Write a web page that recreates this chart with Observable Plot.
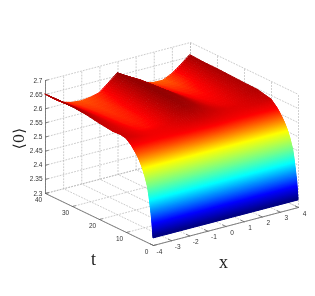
<!DOCTYPE html>
<html><head><meta charset="utf-8">
<style>html,body{margin:0;padding:0;background:#fff}svg{display:block}</style>
<script src="https://cdn.jsdelivr.net/npm/d3@7"></script>
<script src="https://cdn.jsdelivr.net/npm/@observablehq/plot@0.6"></script>
</head><body><div id="c"></div>
<script>
const xTicks=[-4,-3,-2,-1,0,1,2,3,4];
const tTicks=[0,10,20,30,40];
const zTicks=[2.3,2.35,2.4,2.45,2.5,2.55,2.6,2.65,2.7];
const zLabels=["2.3","2.35","2.4","2.45","2.5","2.55","2.6","2.65","2.7"];
const xGrid=[-4,-3.5,-3,-2.5,-2,-1.5,-1,-0.5,0,0.5,1,1.5,2,2.5,3,3.5,4];
const tGrid=[40,35,30,25,20,15,12,10,8,7,6,5,4,3,2,1.5,1,0.5,0.25,0];
const surface=[
[2.650,2.625,2.604,2.595,2.592,2.596,2.604,2.630,2.658,2.638,2.614,2.598,2.590,2.589,2.604,2.628,2.655],
[2.652,2.628,2.610,2.600,2.597,2.600,2.612,2.636,2.660,2.648,2.622,2.606,2.598,2.596,2.606,2.630,2.652],
[2.652,2.632,2.614,2.604,2.600,2.604,2.618,2.640,2.660,2.652,2.628,2.611,2.604,2.604,2.614,2.634,2.652],
[2.648,2.632,2.616,2.606,2.603,2.607,2.622,2.644,2.661,2.655,2.635,2.618,2.610,2.610,2.620,2.637,2.650],
[2.640,2.630,2.618,2.608,2.606,2.610,2.626,2.646,2.659,2.654,2.638,2.624,2.616,2.617,2.626,2.638,2.648],
[2.634,2.628,2.620,2.612,2.610,2.616,2.630,2.646,2.654,2.650,2.638,2.628,2.622,2.622,2.630,2.640,2.647],
[2.636,2.628,2.622,2.618,2.618,2.622,2.630,2.640,2.645,2.642,2.636,2.630,2.626,2.626,2.630,2.636,2.640],
[2.632,2.628,2.622,2.618,2.618,2.620,2.626,2.632,2.636,2.634,2.630,2.626,2.624,2.624,2.628,2.632,2.636],
[2.616,2.616,2.614,2.614,2.614,2.616,2.618,2.620,2.622,2.622,2.620,2.618,2.616,2.616,2.616,2.618,2.618],
[2.604,2.604,2.604,2.604,2.606,2.606,2.608,2.608,2.610,2.610,2.608,2.606,2.606,2.606,2.606,2.606,2.606],
[2.592,2.592,2.592,2.592,2.594,2.594,2.594,2.596,2.596,2.596,2.594,2.594,2.592,2.592,2.592,2.592,2.592],
[2.576,2.576,2.576,2.576,2.576,2.576,2.578,2.578,2.578,2.578,2.578,2.576,2.576,2.576,2.576,2.576,2.576],
[2.556,2.556,2.556,2.556,2.556,2.556,2.556,2.556,2.556,2.556,2.556,2.556,2.556,2.556,2.556,2.556,2.556],
[2.530,2.530,2.530,2.530,2.530,2.530,2.530,2.530,2.530,2.530,2.530,2.530,2.530,2.530,2.530,2.530,2.530],
[2.496,2.496,2.496,2.496,2.496,2.496,2.496,2.496,2.496,2.496,2.496,2.496,2.496,2.496,2.496,2.496,2.496],
[2.466,2.466,2.466,2.466,2.466,2.466,2.466,2.466,2.466,2.466,2.466,2.466,2.466,2.466,2.466,2.466,2.466],
[2.430,2.430,2.430,2.430,2.430,2.430,2.430,2.430,2.430,2.430,2.430,2.430,2.430,2.430,2.430,2.430,2.430],
[2.390,2.390,2.390,2.390,2.390,2.390,2.390,2.390,2.390,2.390,2.390,2.390,2.390,2.390,2.390,2.390,2.390],
[2.360,2.360,2.360,2.360,2.360,2.360,2.360,2.360,2.360,2.360,2.360,2.360,2.360,2.360,2.360,2.360,2.360],
[2.325,2.325,2.325,2.325,2.325,2.325,2.325,2.325,2.325,2.325,2.325,2.325,2.325,2.325,2.325,2.325,2.325]
];
const jetStops=[2.325,2.37,2.45,2.55,2.612,2.668];
const jetColors=["#00007f","#0000ff","#00ffff","#ffff00","#ff0000","#7f0000"];

// MATLAB-style orthographic view of the box (x, t, value) onto the page
const sx=(x,t)=>153+(x+4)*18.125-t*2.7;
const sy=(x,t,z)=>245-(x+4)*4.75-t*1.3-(z-2.3)*282.5;

// surface quads, back to front, split for interpolated shading
const NX=5, cells=[];
let id=0;
for(let i=0;i<tGrid.length-1;i++){
  const NT=Math.min(16,Math.max(3,Math.ceil(Math.abs(surface[i+1][8]-surface[i][8])/0.002)));
  for(let sub=0;sub<NT;sub++){
    for(let j=xGrid.length-2;j>=0;j--){
      for(let k=NX-1;k>=0;k--){
        const at=(a,b)=>{
          const u=(sub+a)/NT,v=(k+b)/NX;
          const t=tGrid[i]+(tGrid[i+1]-tGrid[i])*u;
          const x=xGrid[j]+(xGrid[j+1]-xGrid[j])*v;
          const z=(1-u)*((1-v)*surface[i][j]+v*surface[i][j+1])+u*((1-v)*surface[i+1][j]+v*surface[i+1][j+1]);
          return {x:sx(x,t),y:sy(x,t,z),z};
        };
        const p00=at(0,0),p01=at(0,1),p10=at(1,0),p11=at(1,1);
        const c=(p00.z+p01.z+p10.z+p11.z)/4;
        cells.push({id,x1:p00.x,y1:p00.y,x2:p01.x,y2:p01.y,c});
        cells.push({id,x1:p10.x,y1:p10.y,x2:p11.x,y2:p11.y,c});
        id++;
      }
    }
  }
}

const grid=[];
let g=0;
const seg=(a,b)=>{grid.push({g,x:sx(a[0],a[1]),y:sy(a[0],a[1],a[2])},{g,x:sx(b[0],b[1]),y:sy(b[0],b[1],b[2])});g++;};
for(const x of xTicks){seg([x,0,2.3],[x,40,2.3]);seg([x,40,2.3],[x,40,2.7]);}
for(const t of tTicks){seg([-4,t,2.3],[4,t,2.3]);seg([4,t,2.3],[4,t,2.7]);}
for(const z of zTicks){seg([-4,40,z],[4,40,z]);seg([4,40,z],[4,0,z]);}

const axes=[];
let h=0;
const ax=(a,b)=>{axes.push({h,x:sx(a[0],a[1]),y:sy(a[0],a[1],a[2])},{h,x:sx(b[0],b[1]),y:sy(b[0],b[1],b[2])});h++;};
ax([-4,40,2.3],[-4,40,2.7]);
ax([-4,40,2.3],[-4,0,2.3]);
ax([-4,0,2.3],[4,0,2.3]);
for(const z of zTicks)ax([-4,40,z],[-3.85,40,z]);
for(const t of tTicks)ax([-4,t,2.3],[-3.85,t,2.3]);
for(const x of xTicks)ax([x,0,2.3],[x,1.2,2.3]);

const font="Liberation Sans, Arial, sans-serif";
const serif="Liberation Serif, Times New Roman, serif";
const tickStyle={fontFamily:font,fontSize:6.5,fill:"#333"};

const chart=Plot.plot({
  width:315,height:296,margin:0,
  style:{filter:"blur(0.35px)"},
  x:{domain:[0,315],range:[0,315],axis:null},
  y:{domain:[0,296],range:[0,296],axis:null},
  color:{type:"linear",domain:jetStops,range:jetColors,clamp:true},
  marks:[
    Plot.line(grid,{x:"x",y:"y",z:"g",stroke:"#b5b5b5",strokeWidth:0.7,strokeDasharray:"1,2"}),
    Plot.line(axes,{x:"x",y:"y",z:"h",stroke:"#666",strokeWidth:0.8}),
    Plot.area(cells,{x1:"x1",y1:"y1",x2:"x2",y2:"y2",z:"id",fill:"c",stroke:"c",strokeWidth:1}),
    Plot.text(zTicks,{x:()=>sx(-4,40),y:z=>sy(-4,40,z),text:(z,i)=>zLabels[i],textAnchor:"end",dx:-3,...tickStyle}),
    Plot.text(tTicks,{x:t=>sx(-4,t),y:t=>sy(-4,t,2.3),text:t=>String(t),dx:-7,dy:6,...tickStyle}),
    Plot.text(xTicks,{x:x=>sx(x,0),y:x=>sy(x,0,2.3),text:x=>String(x),dx:6,dy:6,...tickStyle}),
    Plot.text(["t"],{x:()=>93,y:()=>259,text:d=>d,fontFamily:serif,fontSize:18,fill:"#222"}),
    Plot.text(["x"],{x:()=>223,y:()=>262,text:d=>d,fontFamily:serif,fontSize:18,fill:"#222"}),
    Plot.text(["⟨0⟩"],{x:()=>19,y:()=>138,text:d=>d,rotate:-90,fontFamily:"DejaVu Serif, serif",fontSize:15,fill:"#222"})
  ]
});
document.getElementById("c").appendChild(chart);
</script></body></html>
